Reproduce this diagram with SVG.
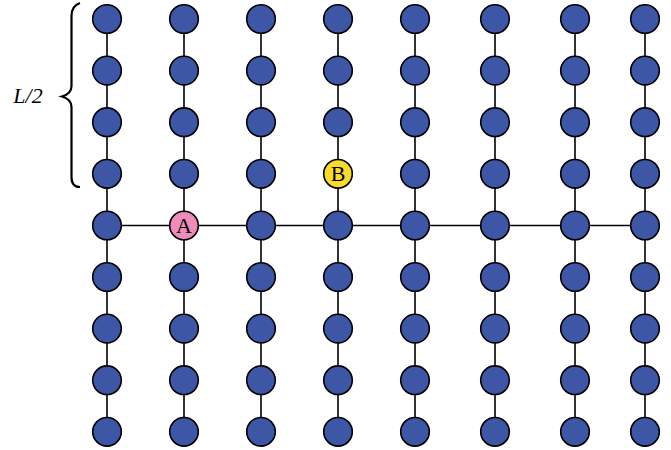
<svg xmlns="http://www.w3.org/2000/svg" width="671" height="450" viewBox="0 0 671 450">
<style>
.n{fill:#3d56a6;stroke:#000;stroke-width:1.6}
.a{fill:#f08cba;stroke:#000;stroke-width:1.6}
.b{fill:#f7dc28;stroke:#000;stroke-width:1.6}
.l{stroke:#000;stroke-width:1.6;fill:none}
.t{font-family:"Liberation Serif",serif;font-size:22px;fill:#000;text-anchor:middle}
</style>
<rect width="671" height="450" fill="#fff"/>
<g id="connectors">
<path class="l" d="M107,19V432M184,19V432M261,19V432M338,19V432M415,19V432M495,19V432M575,19V432M645,19V432M107,225.5H650"/>
</g>
<g id="brace">
<path d="M80,3 C74,5 71.5,9 71.5,16 V86 C71.5,92 67,95 62,96.5 C67,98 71.5,101 71.5,107 V177 C71.5,184 74,187 80,187" fill="none" stroke="#000" stroke-width="2.2"/>
<text x="28" y="103" font-family="'Liberation Serif',serif" font-size="22" font-style="italic" text-anchor="middle">L/2</text>
</g>
<g id="nodes">
<g id="c1"><circle class="n" cx="107" cy="19" r="14.3"/><circle class="n" cx="107" cy="70.6" r="14.3"/><circle class="n" cx="107" cy="122.2" r="14.3"/><circle class="n" cx="107" cy="173.8" r="14.3"/><circle class="n" cx="107" cy="225.5" r="14.3"/><circle class="n" cx="107" cy="277" r="14.3"/><circle class="n" cx="107" cy="328.6" r="14.3"/><circle class="n" cx="107" cy="380.2" r="14.3"/><circle class="n" cx="107" cy="431.8" r="14.3"/></g>
<g id="c2"><circle class="n" cx="184" cy="19" r="14.3"/><circle class="n" cx="184" cy="70.6" r="14.3"/><circle class="n" cx="184" cy="122.2" r="14.3"/><circle class="n" cx="184" cy="173.8" r="14.3"/><circle class="n" cx="184" cy="277" r="14.3"/><circle class="n" cx="184" cy="328.6" r="14.3"/><circle class="n" cx="184" cy="380.2" r="14.3"/><circle class="n" cx="184" cy="431.8" r="14.3"/></g>
<g id="c3"><circle class="n" cx="261" cy="19" r="14.3"/><circle class="n" cx="261" cy="70.6" r="14.3"/><circle class="n" cx="261" cy="122.2" r="14.3"/><circle class="n" cx="261" cy="173.8" r="14.3"/><circle class="n" cx="261" cy="225.5" r="14.3"/><circle class="n" cx="261" cy="277" r="14.3"/><circle class="n" cx="261" cy="328.6" r="14.3"/><circle class="n" cx="261" cy="380.2" r="14.3"/><circle class="n" cx="261" cy="431.8" r="14.3"/></g>
<g id="c4"><circle class="n" cx="338" cy="19" r="14.3"/><circle class="n" cx="338" cy="70.6" r="14.3"/><circle class="n" cx="338" cy="122.2" r="14.3"/><circle class="n" cx="338" cy="225.5" r="14.3"/><circle class="n" cx="338" cy="277" r="14.3"/><circle class="n" cx="338" cy="328.6" r="14.3"/><circle class="n" cx="338" cy="380.2" r="14.3"/><circle class="n" cx="338" cy="431.8" r="14.3"/></g>
<g id="c5"><circle class="n" cx="415" cy="19" r="14.3"/><circle class="n" cx="415" cy="70.6" r="14.3"/><circle class="n" cx="415" cy="122.2" r="14.3"/><circle class="n" cx="415" cy="173.8" r="14.3"/><circle class="n" cx="415" cy="225.5" r="14.3"/><circle class="n" cx="415" cy="277" r="14.3"/><circle class="n" cx="415" cy="328.6" r="14.3"/><circle class="n" cx="415" cy="380.2" r="14.3"/><circle class="n" cx="415" cy="431.8" r="14.3"/></g>
<g id="c6"><circle class="n" cx="495" cy="19" r="14.3"/><circle class="n" cx="495" cy="70.6" r="14.3"/><circle class="n" cx="495" cy="122.2" r="14.3"/><circle class="n" cx="495" cy="173.8" r="14.3"/><circle class="n" cx="495" cy="225.5" r="14.3"/><circle class="n" cx="495" cy="277" r="14.3"/><circle class="n" cx="495" cy="328.6" r="14.3"/><circle class="n" cx="495" cy="380.2" r="14.3"/><circle class="n" cx="495" cy="431.8" r="14.3"/></g>
<g id="c7"><circle class="n" cx="575" cy="19" r="14.3"/><circle class="n" cx="575" cy="70.6" r="14.3"/><circle class="n" cx="575" cy="122.2" r="14.3"/><circle class="n" cx="575" cy="173.8" r="14.3"/><circle class="n" cx="575" cy="225.5" r="14.3"/><circle class="n" cx="575" cy="277" r="14.3"/><circle class="n" cx="575" cy="328.6" r="14.3"/><circle class="n" cx="575" cy="380.2" r="14.3"/><circle class="n" cx="575" cy="431.8" r="14.3"/></g>
<g id="c8"><circle class="n" cx="645" cy="19" r="14.3"/><circle class="n" cx="645" cy="70.6" r="14.3"/><circle class="n" cx="645" cy="122.2" r="14.3"/><circle class="n" cx="645" cy="173.8" r="14.3"/><circle class="n" cx="645" cy="225.5" r="14.3"/><circle class="n" cx="645" cy="277" r="14.3"/><circle class="n" cx="645" cy="328.6" r="14.3"/><circle class="n" cx="645" cy="380.2" r="14.3"/><circle class="n" cx="645" cy="431.8" r="14.3"/></g>
<g id="A"><circle class="a" cx="184" cy="225.5" r="14.3"/><text class="t" x="184" y="233">A</text></g>
<g id="B"><circle class="b" cx="338" cy="173.8" r="14.3"/><text class="t" x="338" y="181.3">B</text></g>
</g>
</svg>
